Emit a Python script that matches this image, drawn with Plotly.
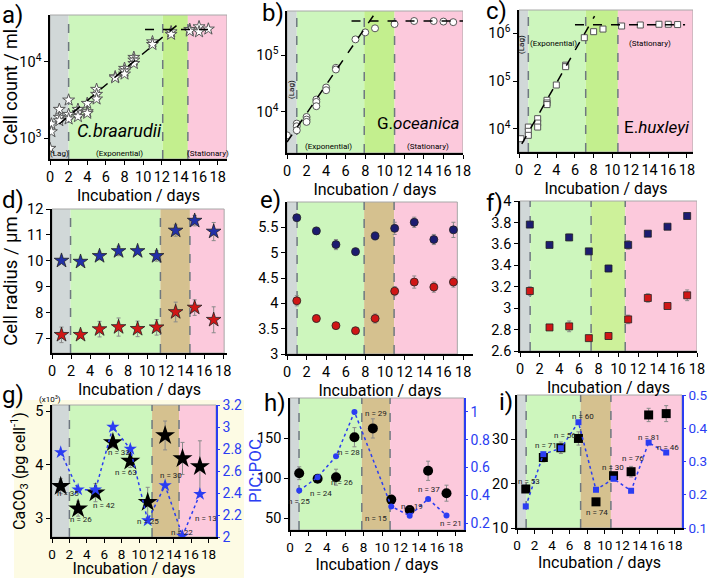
import plotly.graph_objects as go

W, H = 709, 578
FONT = "Roboto"
BLUE = "#2b3df2"
NAVY = "#1c1c70"
RED = "#d01616"

# ---------------- data ----------------
days9 = [1, 3, 5, 7, 9, 11, 13, 15, 17]
xticks = [0, 2, 4, 6, 8, 10, 12, 14, 16, 18]

# a) C. braarudii cell counts
a_days = [0, 0.15, 0.15, 1, 1, 1, 2, 2, 2, 3, 3, 3, 4, 4, 4, 5, 5, 5, 7, 7, 8, 8, 8,
          9, 9, 9, 11, 11, 13, 13, 15, 15, 16, 16, 17]
a_counts = [740, 1540, 1220, 2390, 1880, 1700, 3160, 2055, 1790, 2390, 2160, 1920,
            2860, 2230, 2120, 4360, 3750, 3260, 6370, 6170, 8190, 7550, 6900,
            11400, 10500, 9500, 18200, 16800, 24600, 22800, 26400, 25100, 28600, 24600, 26700]
a_fit_days = [1, 14.2]
a_fit_counts = [1540, 34300]
a_plateau_days = [10.2, 17]
a_plateau_counts = [26400, 26400]

# b) G. oceanica cell counts
b_days = [0, 1, 1, 1, 2, 2, 2, 3, 3, 3, 4, 4, 5, 5, 7, 8, 9, 11, 13, 15, 16, 17]
b_counts = [3870, 6230, 5590, 4750, 8160, 7330, 6670, 16500, 15000, 12600, 26900, 24100,
            59700, 55800, 189000, 251000, 296000, 352000, 398000, 398000, 389000, 380000]
b_fit_days = [0, 9.0]
b_fit_counts = [2950, 543000]
b_plateau_days = [6.6, 18]
b_plateau_counts = [398000, 398000]

# c) E. huxleyi cell counts
c_days = [0.2, 1, 1, 1, 2, 2, 2, 3, 3, 3, 4, 5, 5, 7, 8, 9, 11, 13, 15, 16, 17]
c_counts = [6150, 10800, 8790, 7240, 16200, 13100, 10800, 39400, 34600, 32000, 82400,
            215000, 200000, 811000, 1084000, 1230000, 1426000, 1497000, 1550000, 1550000, 1530000]
c_fit_days = [0.3, 8.1]
c_fit_counts = [4800, 2300000]
c_plateau_days = [6.0, 17.8]
c_plateau_counts = [1520000, 1520000]

# d) cell radius C. braarudii
d_outer = [10.01, 9.97, 10.19, 10.38, 10.38, 10.19, 11.17, 11.55, 11.13]
d_outer_err = [0.08, 0.08, 0.15, 0.18, 0.1, 0.2, 0.22, 0.2, 0.35]
d_inner = [7.15, 7.15, 7.37, 7.45, 7.38, 7.44, 8.03, 8.2, 7.73]
d_inner_err = [0.3, 0.12, 0.3, 0.35, 0.3, 0.3, 0.38, 0.3, 0.5]

# e) cell radius G. oceanica
e_outer = [5.69, 5.43, 5.16, 5.02, 5.33, 5.48, 5.60, 5.26, 5.45]
e_outer_err = [0.03, 0.07, 0.1, 0.07, 0.08, 0.12, 0.1, 0.1, 0.15]
e_inner = [4.05, 3.70, 3.56, 3.46, 3.70, 4.24, 4.42, 4.32, 4.42]
e_inner_err = [0.1, 0.07, 0.04, 0.04, 0.09, 0.09, 0.12, 0.1, 0.1]

# f) cell radius E. huxleyi
f_outer = [3.78, 3.59, 3.66, 3.53, 3.37, 3.59, 3.695, 3.76, 3.86]
f_outer_err = [0.02, 0.02, 0.03, 0.02, 0.03, 0.04, 0.02, 0.02, 0.02]
f_inner = [3.16, 2.82, 2.83, 2.72, 2.74, 2.895, 3.095, 3.02, 3.12]
f_inner_err = [0.04, 0.02, 0.05, 0.02, 0.03, 0.04, 0.04, 0.02, 0.05]

# g) CaCO3 and PIC:POC C. braarudii
g_caco3 = [3.60, 3.18, 3.48, 4.42, 4.07, 3.30, 4.55, 4.12, 3.97]
g_caco3_err = [0.14, 0.14, 0.17, 0.1, 0.12, 0.28, 0.27, 0.3, 0.48]
g_picpoc = [2.77, 2.43, 2.43, 3.00, 2.80, 2.15, 2.47, 2.01, 2.39]
g_n = ["n = 35", "n = 26", "n = 42", "n = 33", "n = 63", "n = 25", "n = 30", "n = 22", "n = 13"]
g_n_days = [1.8, 3.3, 6.0, 7.7, 8.5, 11.0, 13.7, 14.9, 17.7]
g_n_vals = [3.47, 2.98, 3.24, 4.23, 3.86, 2.94, 3.80, 2.73, 3.0]

# h) PIC and PIC:POC G. oceanica
h_pic = [106, 99, 101, 151, 162, 73, 60, 109, 81]
h_pic_err = [8, 4, 10, 12, 12, 4, 4, 12, 10]
h_picpoc_days = [1, 3, 5, 7, 11, 13, 15, 17]
h_picpoc = [0.434, 0.53, 0.68, 1.0, 0.32, 0.253, 0.374, 0.255]
h_n = ["n = 25", "n = 24", "n = 26", "n = 28", "n = 29", "n = 15", "n = 19", "n = 37", "n = 21"]
h_n_days = [1.0, 3.4, 5.7, 6.4, 9.3, 9.3, 13.3, 15.1, 17.5]
h_n_vals = [71, 81, 95, 132, 181, 50, 65, 86, 43]

# i) PIC and PIC:POC E. huxleyi
i_pic = [18.8, 25.9, 28.1, 30.2, 15.9, 21.8, 22.7, 35.5, 35.8]
i_pic_err = [0.5, 1.0, 1.3, 1.5, 0.8, 0.6, 1.2, 1.5, 1.8]
i_picpoc = [0.165, 0.322, 0.34, 0.418, 0.215, 0.248, 0.212, 0.357, 0.327]
i_n = ["n = 53", "n = 71", "n = 56", "n = 60", "n = 74", "n = 30", "n = 76", "n = 81", "n = 46"]
i_n_days = [1.4, 3.3, 5.45, 7.5, 9.1, 10.9, 13.2, 15.0, 17.2]
i_n_vals = [20.6, 28.6, 30.9, 35.1, 13.5, 23.7, 25.7, 30.4, 28.1]

# growth phase boundaries (lag end, exponential end, transition end), shading end, x max
phases = {
    1: ([2.0, 12.1, 14.8], 19.0, 19.0),
    2: ([1.0, 7.9, 11.0], 18.0, 18.0),
    3: ([1.0, 7.15, 10.6], 18.65, 18.65),
    4: ([1.95, 11.4, 14.5], 18.1, 18.4),
    5: ([1.03, 7.88, 10.94], 17.4, 19.0),
    6: ([1.03, 7.23, 10.7], 18.0, 18.0),
    7: ([2.0, 11.5, 14.6], 18.85, 18.85),
    8: ([0.98, 7.8, 10.87], 18.9, 18.9),
    9: ([1.04, 7.25, 10.7], 18.8, 18.8),
}

# ---------------- layout geometry (pixels: left, right, top, bottom) ----------------
boxes = {
    1: (50, 227, 15, 159),
    2: (287, 463, 11, 153),
    3: (519, 693, 10, 152),
    4: (52, 227, 209, 353),
    5: (287, 473, 202, 354),
    6: (520, 697, 201, 351),
    7: (52, 216, 405, 537),
    8: (290, 464, 398, 530),
    9: (517, 682, 395, 528),
}

C_LAG = "#d1d8d8"
C_EXP = "#cdf6bd"
C_YG = "#c3ef8e"
C_TAN = "#d5c18f"
C_STAT = "#fcc9dc"
trans_col = {1: C_YG, 2: C_YG, 3: C_YG, 4: C_TAN, 5: C_TAN, 6: "#cdf19a", 7: C_TAN, 8: C_TAN, 9: C_TAN}


def sfx(k):
    return "" if k == 1 else str(k)


fig = go.Figure()
shapes = []
annotations = []

# cream background behind panel g
shapes.append(dict(type="rect", xref="paper", yref="paper", x0=14 / W, x1=244 / W,
                   y0=0, y1=1 - 400 / H, fillcolor="#fdfbe4", line=dict(width=0), layer="below"))

for k in range(1, 10):
    (b1, b2, b3), send, xmax = phases[k]
    xr, yr = "x" + sfx(k), "y" + sfx(k) + " domain"
    segs = [(0, b1, C_LAG), (b1, b2, C_EXP), (b2, b3, trans_col[k]), (b3, send, C_STAT)]
    for x0, x1, col in segs:
        shapes.append(dict(type="rect", xref=xr, yref=yr, x0=x0, x1=x1, y0=0, y1=1,
                           fillcolor=col, line=dict(width=0), layer="below"))
    shapes.append(dict(type="rect", xref=xr, yref=yr, x0=0, x1=send, y0=0, y1=1,
                       fillcolor="rgba(0,0,0,0)", line=dict(color="#a8a8a8", width=1), layer="below"))
    for xv in (b1, b2, b3):
        shapes.append(dict(type="line", xref=xr, yref=yr, x0=xv, x1=xv, y0=0, y1=1,
                           line=dict(color="#6f7880", width=1.5, dash="dash"), layer="below"))


def ax_names(k):
    return "x" + sfx(k), "y" + sfx(k)


def err(arr):
    return dict(type="data", array=arr, color="#8a8a8a", thickness=1, width=2)


# --- row 1: growth curves ---
growth = [
    (1, a_days, a_counts, a_fit_days, a_fit_counts, a_plateau_days, a_plateau_counts, "star", 9),
    (2, b_days, b_counts, b_fit_days, b_fit_counts, b_plateau_days, b_plateau_counts, "circle", 7),
    (3, c_days, c_counts, c_fit_days, c_fit_counts, c_plateau_days, c_plateau_counts, "square", 6),
]
for k, dx, dy, fx, fy, px_, py_, sym, sz in growth:
    xa, ya = ax_names(k)
    fig.add_trace(go.Scatter(x=dx, y=dy, mode="markers", xaxis=xa, yaxis=ya,
                             marker=dict(symbol=sym, size=sz, color="white",
                                         line=dict(color="#555555", width=1))))
    fig.add_trace(go.Scatter(x=fx, y=fy, mode="lines", xaxis=xa, yaxis=ya,
                             line=dict(color="black", width=1.5, dash="dash")))
    fig.add_trace(go.Scatter(x=px_, y=py_, mode="lines", xaxis=xa, yaxis=ya,
                             line=dict(color="black", width=1.5, dash="dash")))

# --- row 2: cell radius ---
radius = [
    (4, d_outer, d_outer_err, d_inner, d_inner_err, "star", 11, "#2230a8"),
    (5, e_outer, e_outer_err, e_inner, e_inner_err, "circle", 8, NAVY),
    (6, f_outer, f_outer_err, f_inner, f_inner_err, "square", 7, NAVY),
]
for k, yo, eo, yi, ei, sym, sz, bcol in radius:
    xa, ya = ax_names(k)
    fig.add_trace(go.Scatter(x=days9, y=yo, error_y=err(eo), mode="markers", xaxis=xa, yaxis=ya,
                             marker=dict(symbol=sym, size=sz, color=bcol, line=dict(color="#222", width=0.8))))
    fig.add_trace(go.Scatter(x=days9, y=yi, error_y=err(ei), mode="markers", xaxis=xa, yaxis=ya,
                             marker=dict(symbol=sym, size=sz, color=RED, line=dict(color="#222", width=0.8))))

# --- row 3: calcite and PIC:POC ---
fig.add_trace(go.Scatter(x=days9, y=g_picpoc, mode="lines+markers", xaxis="x7", yaxis="y10",
                         line=dict(color=BLUE, width=1.5, dash="dot"),
                         marker=dict(symbol="star", size=10, color=BLUE)))
fig.add_trace(go.Scatter(x=days9, y=g_caco3, error_y=err(g_caco3_err), mode="markers", xaxis="x7", yaxis="y7",
                         marker=dict(symbol="star", size=15, color="black")))
fig.add_trace(go.Scatter(x=h_picpoc_days, y=h_picpoc, mode="lines+markers", xaxis="x8", yaxis="y11",
                         line=dict(color=BLUE, width=1.5, dash="dot"),
                         marker=dict(symbol="circle", size=6, color=BLUE)))
fig.add_trace(go.Scatter(x=days9, y=h_pic, error_y=err(h_pic_err), mode="markers", xaxis="x8", yaxis="y8",
                         marker=dict(symbol="circle", size=10, color="black")))
fig.add_trace(go.Scatter(x=days9, y=i_picpoc, mode="lines+markers", xaxis="x9", yaxis="y12",
                         line=dict(color=BLUE, width=1.5, dash="dot"),
                         marker=dict(symbol="square", size=6, color=BLUE)))
fig.add_trace(go.Scatter(x=days9, y=i_pic, error_y=err(i_pic_err), mode="markers", xaxis="x9", yaxis="y9",
                         marker=dict(symbol="square", size=9, color="black")))

for k, labels, nx, ny in [(7, g_n, g_n_days, g_n_vals), (8, h_n, h_n_days, h_n_vals), (9, i_n, i_n_days, i_n_vals)]:
    for t, xv, yv in zip(labels, nx, ny):
        annotations.append(dict(text=t, x=xv, y=yv, xref="x" + sfx(k), yref="y" + sfx(k), showarrow=False,
                                xanchor="center", yanchor="middle",
                                font=dict(family=FONT, size=8, color="#222")))

# ---------------- axes ----------------
yinfo = {
    1: dict(type="log", range=[2.73, 4.61], tickvals=[1e3, 1e4], ticktext=["10<sup>3</sup>", "10<sup>4</sup>"]),
    2: dict(type="log", range=[3.277, 5.776], tickvals=[1e4, 1e5], ticktext=["10<sup>4</sup>", "10<sup>5</sup>"]),
    3: dict(type="log", range=[3.51, 6.49], tickvals=[1e4, 1e5, 1e6],
            ticktext=["10<sup>4</sup>", "10<sup>5</sup>", "10<sup>6</sup>"]),
    4: dict(range=[6.45, 12], tickvals=[7, 8, 9, 10, 11, 12]),
    5: dict(range=[3, 6], tickvals=[3, 3.5, 4, 4.5, 5, 5.5]),
    6: dict(range=[2.6, 4], tickvals=[2.6, 2.8, 3, 3.2, 3.4, 3.6, 3.8, 4]),
    7: dict(range=[2.65, 5.12], tickvals=[3, 4, 5]),
    8: dict(range=[35, 200], tickvals=[50, 100, 150]),
    9: dict(range=[10, 40], tickvals=[10, 20, 30]),
}
ytitles = {1: ("Cell count / ml", 18, 3), 4: ("Cell radius / \u03bcm", 18.5, 5),
           7: ("CaCO<sub>3</sub> (pg cell<sup>-1</sup>)", 16, 6)}

layout = dict(width=W, height=H, margin=dict(l=0, r=0, t=0, b=0, autoexpand=False), paper_bgcolor="white",
              plot_bgcolor="white", showlegend=False, font=dict(family=FONT, size=14, color="black"))

common = dict(showline=True, linecolor="black", linewidth=1.5, ticks="outside", ticklen=4,
              tickwidth=1.2, tickcolor="black", showgrid=False, zeroline=False, automargin=False)

for k in range(1, 10):
    l, r, t, b = boxes[k]
    xmax = phases[k][2]
    tsz = 14.5 if k <= 6 else 13.5
    layout["xaxis" + sfx(k)] = dict(domain=[l / W, r / W], anchor="y" + sfx(k), range=[0, xmax],
                                    tickvals=xticks, tickangle=0,
                                    tickfont=dict(family=FONT, size=tsz, color="black"),
                                    title=dict(text="Incubation / days", font=dict(family=FONT, size=16), standoff=2),
                                    **common)
    yd = dict(domain=[1 - b / H, 1 - t / H], anchor="x" + sfx(k),
              tickfont=dict(family=FONT, size=14.5, color="black"), **common)
    yd.update(yinfo[k])
    if k in ytitles:
        txt, fs, so = ytitles[k]
        yd["title"] = dict(text=txt, font=dict(family=FONT, size=fs), standoff=so)
    layout["yaxis" + sfx(k)] = yd

right = {10: (7, [2, 3.2], [2, 2.2, 2.4, 2.6, 2.8, 3, 3.2]),
         11: (8, [0.15, 1.1], [0.2, 0.4, 0.6, 0.8, 1]),
         12: (9, [0.1, 0.5], [0.1, 0.2, 0.3, 0.4, 0.5])}
for n, (k, rng, tv) in right.items():
    rd = dict(overlaying="y" + sfx(k), anchor="x" + sfx(k), side="right", range=rng, tickvals=tv,
              showline=True, linecolor=BLUE, linewidth=1.5, ticks="outside", ticklen=2, tickwidth=1.2,
              tickcolor=BLUE, showgrid=False, zeroline=False, automargin=False,
              tickfont=dict(family=FONT, size=14 if n < 12 else 13.5, color=BLUE))
    if n == 10:
        rd["title"] = dict(text="PIC:POC", font=dict(family=FONT, size=17, color=BLUE), standoff=8)
    layout["yaxis" + str(n)] = rd


def ann(text, px, py, size, xanchor="center", **kw):
    d = dict(text=text, x=px / W, y=1 - py / H, xref="paper", yref="paper", showarrow=False,
             xanchor=xanchor, yanchor="middle",
             font=dict(family=FONT, size=size, color=kw.pop("color", "black")))
    d.update(kw)
    return d


# panel letters
for txt, px, py in [("a)", 0, 15), ("b)", 260, 13), ("c)", 484, 11), ("d)", 0, 200), ("e)", 258, 200),
                    ("f)", 484, 203), ("g)", 0, 395), ("h)", 262, 403), ("i)", 497, 402)]:
    annotations.append(ann(txt, px, py, 24, xanchor="left"))

# phase / species labels
annotations += [
    ann("(Lag)", 60, 154, 8),
    ann("(Exponential)", 120, 154, 8),
    ann("(Stationary)", 208, 154, 8),
    ann("<i>C.braarudii</i>", 120, 130, 18),
    ann("(Lag)", 292, 90, 8, textangle=-90),
    ann("(Exponential)", 328, 146, 8),
    ann("(Stationary)", 428, 146, 8),
    ann("G.<i>oceanica</i>", 418, 123, 17),
    ann("(Lag)", 522, 45, 8, textangle=-90),
    ann("(Exponential)", 553, 43, 8),
    ann("(Stationary)", 650, 43, 8),
    ann("E.<i>huxleyi</i>", 657, 127, 17),
    ann("(x10<sup>3</sup>)", 50, 399, 8),
]

layout["shapes"] = shapes
layout["annotations"] = annotations
fig.update_layout(**layout)
fig.write_html("out.html")
